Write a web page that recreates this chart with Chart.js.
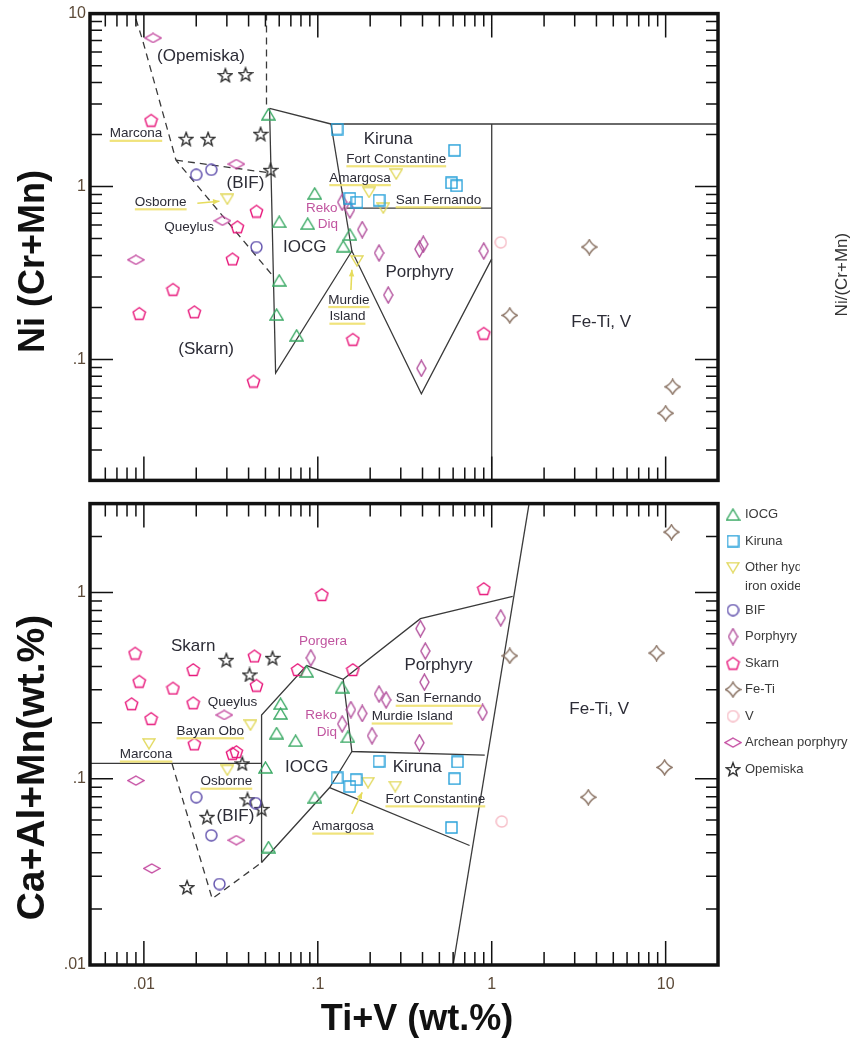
<!DOCTYPE html>
<html>
<head>
<meta charset="utf-8">
<script src="https://cdn.jsdelivr.net/npm/chart.js@4.4.1/dist/chart.umd.min.js"></script>
<style>
  html, body { margin: 0; padding: 0; background: #fff; }
  #wrap { position: relative; width: 858px; height: 1044px; overflow: hidden; }
  #botBox { position: absolute; left: 0; top: 490px; width: 858px; height: 554px; }
  #topBox { position: absolute; left: 0; top: 0; width: 858px; height: 494px; }
</style>
</head>
<body>
<div id="wrap">
  <div id="botBox"><canvas id="botChart"></canvas></div>
  <div id="topBox"><canvas id="topChart"></canvas></div>
</div>
<script>
// shared x axis, Ti+V (wt.%)
const xMin = 0.0049, xMax = 20;
const xTicks = [0.01, 0.1, 1, 10];
const xTickLabels = ['.01', '.1', '1', '10'];

// upper panel, Ni/(Cr+Mn)
const topYMin = 0.02, topYMax = 10;
const topYTicks = [0.1, 1, 10];
const topYTickLabels = ['.1', '1', '10'];

// lower panel, Ca+Al+Mn (wt.%)
const botYMin = 0.01, botYMax = 3;
const botYTicks = [0.01, 0.1, 1];
const botYTickLabels = ['.01', '.1', '1'];

const groups = ['IOCG', 'Kiruna', 'Other hydrothermal iron oxide', 'BIF', 'Porphyry', 'Skarn', 'Fe-Ti', 'V', 'Archean porphyry', 'Opemiska'];

// upper panel samples [Ti+V, Ni/(Cr+Mn)]
const iocgTop = [[0.052, 2.62], [0.060, 0.626], [0.0875, 0.61], [0.096, 0.913], [0.153, 0.528], [0.14, 0.452], [0.060, 0.287], [0.058, 0.182], [0.0756, 0.138]];
const kirunaTop = [[0.129, 2.15], [0.611, 1.62], [0.587, 1.05], [0.628, 1.01], [0.153, 0.855], [0.168, 0.812], [0.225, 0.834]];
const otherTop = [[0.0302, 0.845], [0.2825, 1.18], [0.197, 0.925], [0.238, 0.751], [0.168, 0.372]];
const bifTop = [[0.020, 1.17], [0.0244, 1.25], [0.0444, 0.447]];
const porphyryTop = [[0.138, 0.812], [0.153, 0.732], [0.180, 0.564], [0.225, 0.413], [0.384, 0.435], [0.404, 0.464], [0.90, 0.424], [0.254, 0.236], [0.394, 0.0889]];
const skarnTop = [[0.011, 2.42], [0.0444, 0.722], [0.0345, 0.586], [0.0323, 0.382], [0.0147, 0.255], [0.0094, 0.185], [0.0195, 0.189], [0.0427, 0.0751], [0.159, 0.131], [0.90, 0.142]];
const feTiTop = [[3.64, 0.447], [1.27, 0.180], [10.97, 0.0695], [10.0, 0.0489]];
const vTop = [[1.127, 0.476]];
const archeanTop = [[0.0113, 7.23], [0.034, 1.35], [0.0283, 0.634], [0.009, 0.377]];
const opemiskaTop = [[0.0294, 4.41], [0.0384, 4.47], [0.0175, 1.89], [0.0234, 1.89], [0.0469, 2.02], [0.0535, 1.25]];

// lower panel samples [Ti+V, Ca+Al+Mn]
const iocgBot = [[0.0863, 0.377], [0.138, 0.310], [0.0611, 0.253], [0.0611, 0.224], [0.058, 0.176], [0.0746, 0.160], [0.149, 0.168], [0.050, 0.115], [0.0962, 0.0796], [0.0521, 0.043]];
const kirunaBot = [[0.225, 0.124], [0.636, 0.123], [0.611, 0.100], [0.129, 0.101], [0.166, 0.0989], [0.153, 0.0908], [0.587, 0.0547]];
const otherBot = [[0.0107, 0.154], [0.041, 0.194], [0.0302, 0.111], [0.1945, 0.0953], [0.279, 0.0908]];
const bifBot = [[0.020, 0.0796], [0.0438, 0.074], [0.0244, 0.0497], [0.0272, 0.0272]];
const porphyryBot = [[0.0912, 0.446], [0.389, 0.640], [0.415, 0.485], [0.41, 0.330], [1.127, 0.731], [0.225, 0.285], [0.247, 0.265], [0.180, 0.224], [0.155, 0.235], [0.138, 0.197], [0.205, 0.170], [0.384, 0.156], [0.887, 0.227]];
const skarnBot = [[0.0089, 0.473], [0.0192, 0.386], [0.0094, 0.334], [0.0147, 0.307], [0.0085, 0.253], [0.0192, 0.256], [0.011, 0.211], [0.0195, 0.154], [0.0432, 0.457], [0.0444, 0.318], [0.1055, 0.976], [0.90, 1.05], [0.0766, 0.386], [0.159, 0.386], [0.0323, 0.137], [0.034, 0.14]];
const feTiBot = [[10.8, 2.11], [1.27, 0.457], [8.87, 0.473], [9.86, 0.115], [3.59, 0.0796]];
const vBot = [[1.142, 0.0589]];
const archeanBot = [[0.009, 0.0977], [0.029, 0.22], [0.034, 0.0468], [0.0111, 0.033]];
const opemiskaBot = [[0.0298, 0.435], [0.0549, 0.446], [0.0405, 0.363], [0.0368, 0.121], [0.0394, 0.0776], [0.0475, 0.0689], [0.0231, 0.0625], [0.0177, 0.0262]];

// field boundaries
const topSolid = [
  [[0.0528, 2.83], [0.119, 2.30], [20, 2.30]],
  [[0.0528, 2.83], [0.0572, 0.0834], [0.157, 0.424], [0.394, 0.0634], [1.0, 0.382]],
  [[0.119, 2.30], [0.157, 0.424]],
  [[0.147, 0.751], [1.0, 0.751]],
  [[1.0, 2.30], [1.0, 0.02]]
];
const topDashed = [
  [[0.009, 9.3], [0.0098, 7.1], [0.0153, 1.42], [0.0549, 0.306]],
  [[0.0153, 1.42], [0.0528, 1.20]],
  [[0.0507, 10], [0.0507, 2.9]]
];
const botSolid = [
  [[0.0049, 0.121], [0.0475, 0.121]],
  [[0.0475, 0.0355], [0.0475, 0.22], [0.0863, 0.405], [0.14, 0.342], [0.389, 0.723], [1.32, 0.953]],
  [[0.14, 0.342], [0.157, 0.140], [0.912, 0.134]],
  [[0.157, 0.140], [0.117, 0.0897], [0.0475, 0.0355]],
  [[0.117, 0.0897], [0.746, 0.0438]],
  [[1.64, 3.0], [0.60, 0.01]]
];
const botDashed = [
  [[0.0145, 0.121], [0.0247, 0.0227], [0.0475, 0.0355]]
];

// annotations [text, x, y]
const topRegionLabels = [['(Opemiska)', 0.0213, 5.63], ['(BIF)', 0.0384, 1.04], ['IOCG', 0.0841, 0.447], ['Kiruna', 0.254, 1.87], ['Porphyry', 0.384, 0.318], ['Fe-Ti, V', 4.26, 0.164], ['(Skarn)', 0.0228, 0.114]];
const topSiteLabels = [['Marcona', 0.009, 2.02], ['Osborne', 0.0125, 0.812], ['Fort Constantine', 0.2825, 1.44], ['Amargosa', 0.175, 1.12], ['San Fernando', 0.494, 0.834], ['Murdie', 0.151, 0.221], ['Island', 0.148, 0.177]];
const topPlainLabels = [['Queylus', 0.0182, 0.579]];
const topDepositLabels = [['Reko', 0.1055, 0.751], ['Diq', 0.1143, 0.602]];
const topArrows = [[0.0203, 0.80, 0.0272, 0.823], [0.155, 0.252, 0.157, 0.33]];

const botRegionLabels = [['Skarn', 0.0192, 0.515], ['(BIF)', 0.0336, 0.0625], ['IOCG', 0.0863, 0.115], ['Porphyry', 0.494, 0.405], ['Kiruna', 0.373, 0.115], ['Fe-Ti, V', 4.15, 0.235]];
const botSiteLabels = [['Bayan Obo', 0.0241, 0.18], ['Marcona', 0.0103, 0.135], ['Osborne', 0.0298, 0.0965], ['San Fernando', 0.494, 0.269], ['Murdie Island', 0.349, 0.216], ['Fort Constantine', 0.474, 0.0776], ['Amargosa', 0.1396, 0.0554]];
const botPlainLabels = [['Queylus', 0.0323, 0.256]];
const botDepositLabels = [['Porgera', 0.107, 0.547], ['Reko', 0.1045, 0.22], ['Diq', 0.1127, 0.178]];
const botArrows = [[0.157, 0.0648, 0.180, 0.0845]];

const FONT = '"Liberation Sans", Arial, Helvetica, sans-serif';
const tickColor = '#5c4a38';

// marker glyphs
const shapes = {
  triUp: (g, w, h) => { g.moveTo(0, -h / 2 + 1); g.lineTo(w / 2 - 1, h / 2 - 1); g.lineTo(-w / 2 + 1, h / 2 - 1); g.closePath(); },
  triDown: (g, w, h) => { g.moveTo(-w / 2 + 1, -h / 2 + 1); g.lineTo(w / 2 - 1, -h / 2 + 1); g.lineTo(0, h / 2 - 1); g.closePath(); },
  square: (g, w, h) => { g.rect(-w / 2 + 1, -h / 2 + 1, w - 2, h - 2); },
  circle: (g, w) => { g.arc(0, 0, w / 2 - 1, 0, Math.PI * 2); },
  diamond: (g, w, h) => { g.moveTo(0, -h / 2 + 1); g.lineTo(w / 2 - 1, 0); g.lineTo(0, h / 2 - 1); g.lineTo(-w / 2 + 1, 0); g.closePath(); },
  pentagon: (g, w) => {
    const r = w / 2 - 1;
    for (let i = 0; i < 5; i++) {
      const a = -Math.PI / 2 + i * 2 * Math.PI / 5;
      if (i) g.lineTo(r * Math.cos(a), r * Math.sin(a) + 0.8); else g.moveTo(r * Math.cos(a), r * Math.sin(a) + 0.8);
    }
    g.closePath();
  },
  star5: (g, w) => {
    const R = w / 2 - 1, r = R * 0.42;
    for (let i = 0; i < 10; i++) {
      const a = -Math.PI / 2 + i * Math.PI / 5, rr = i % 2 ? r : R;
      if (i) g.lineTo(rr * Math.cos(a), rr * Math.sin(a) + 0.8); else g.moveTo(rr * Math.cos(a), rr * Math.sin(a) + 0.8);
    }
    g.closePath();
  },
  star4: (g, w) => {
    const r = w / 2 - 1, k = r * 0.32;
    g.moveTo(0, -r);
    g.quadraticCurveTo(k, -k, r, 0);
    g.quadraticCurveTo(k, k, 0, r);
    g.quadraticCurveTo(-k, k, -r, 0);
    g.quadraticCurveTo(-k, -k, 0, -r);
    g.closePath();
  }
};

function marker(shape, w, h, color) {
  const c = document.createElement('canvas');
  c.width = w; c.height = h;
  const g = c.getContext('2d');
  g.strokeStyle = color;
  g.lineWidth = 1.4;
  g.translate(w / 2, h / 2);
  g.beginPath();
  shapes[shape](g, w, h);
  g.stroke();
  return c;
}

const styles = [
  marker('triUp', 15, 13, '#3aa964'),
  marker('square', 13, 13, '#2aa2da'),
  marker('triDown', 14, 12, '#e2d95e'),
  marker('circle', 13, 13, '#6151ad'),
  marker('diamond', 11, 18, '#b24f9c'),
  marker('pentagon', 15, 15, '#e8197c'),
  marker('star4', 17, 17, '#8c7566'),
  marker('circle', 13, 13, '#f6bcc6'),
  marker('diamond', 18, 11, '#c2449d'),
  marker('star5', 16, 16, '#2a2a2a')
];

const pts = arr => arr.map(([x, y]) => ({ x, y }));

function markerSets(series) {
  return series.map((arr, i) => ({
    label: groups[i],
    legendText: i === 2 ? ['Other hydrothermal', 'iron oxide'] : groups[i],
    legendClip: i === 2 ? 62 : 200,
    data: pts(arr),
    pointStyle: styles[i],
    pointRadius: 7,
    showLine: false,
    order: 0
  }));
}

function lineSets(solid, dashed) {
  const mk = (arr, dash) => ({
    data: pts(arr), showLine: true, borderColor: '#3a3a3a', borderWidth: 1.3, borderDash: dash,
    pointRadius: 0, pointHitRadius: 0, fill: false, tension: 0, order: 2
  });
  return solid.map(a => mk(a, [])).concat(dashed.map(a => mk(a, [7, 5])));
}

function logSteps(lo, hi) {
  const out = [];
  for (let e = -3; e <= 2; e++) {
    for (let m = 1; m <= 9; m++) {
      const v = +(m * Math.pow(10, e)).toPrecision(3);
      if (v >= lo * 1.05 && v <= hi * 1.001) out.push(v);
    }
  }
  return out;
}
const isDecade = v => Math.abs(Math.log10(v) - Math.round(Math.log10(v))) < 1e-6;

// inward tick marks on all four sides plus the frame
const frame = {
  id: 'frame',
  afterDraw(chart) {
    const { ctx, chartArea: a, scales: { x, y } } = chart;
    ctx.save();
    ctx.strokeStyle = '#111';
    ctx.lineWidth = 1.5;
    ctx.beginPath();
    logSteps(x.min, x.max).forEach(v => {
      const px = x.getPixelForValue(v), len = isDecade(v) ? 24 : 13;
      ctx.moveTo(px, a.top); ctx.lineTo(px, a.top + len);
      ctx.moveTo(px, a.bottom); ctx.lineTo(px, a.bottom - len);
    });
    logSteps(y.min, y.max).forEach(v => {
      const py = y.getPixelForValue(v), len = isDecade(v) ? 23 : 12;
      ctx.moveTo(a.left, py); ctx.lineTo(a.left + len, py);
      ctx.moveTo(a.right, py); ctx.lineTo(a.right - len, py);
    });
    ctx.stroke();
    ctx.lineWidth = 3.5;
    ctx.strokeRect(a.left, a.top, a.right - a.left, a.bottom - a.top);
    ctx.restore();
  }
};

const labelKinds = {
  region: { font: '17px ' + FONT, color: '#2c2c36' },
  site: { font: '13.5px ' + FONT, color: '#2c2c36', underline: 'rgba(238,224,110,0.9)' },
  plain: { font: '13.5px ' + FONT, color: '#2c2c36' },
  deposit: { font: '13.5px ' + FONT, color: '#c0549f' }
};

function notes(groupsOfLabels, arrows) {
  return {
    id: 'notes',
    afterDatasetsDraw(chart) {
      const { ctx, scales: { x, y } } = chart;
      ctx.save();
      ctx.strokeStyle = '#e6dc5c';
      ctx.fillStyle = '#e6dc5c';
      ctx.lineWidth = 1.6;
      arrows.forEach(([x1, y1, x2, y2]) => {
        const ax = x.getPixelForValue(x1), ay = y.getPixelForValue(y1);
        const bx = x.getPixelForValue(x2), by = y.getPixelForValue(y2);
        const ang = Math.atan2(by - ay, bx - ax);
        ctx.beginPath(); ctx.moveTo(ax, ay); ctx.lineTo(bx, by); ctx.stroke();
        ctx.beginPath();
        ctx.moveTo(bx, by);
        ctx.lineTo(bx - 7 * Math.cos(ang - 0.4), by - 7 * Math.sin(ang - 0.4));
        ctx.lineTo(bx - 7 * Math.cos(ang + 0.4), by - 7 * Math.sin(ang + 0.4));
        ctx.closePath(); ctx.fill();
      });
      ctx.textAlign = 'center';
      ctx.textBaseline = 'middle';
      groupsOfLabels.forEach(([kind, list]) => {
        const st = labelKinds[kind];
        ctx.font = st.font;
        list.forEach(([t, lx, ly]) => {
          const px = x.getPixelForValue(lx), py = y.getPixelForValue(ly);
          if (st.underline) {
            const w = ctx.measureText(t).width;
            ctx.fillStyle = st.underline;
            ctx.fillRect(px - w / 2, py + 6, w, 2.2);
          }
          ctx.fillStyle = st.color;
          ctx.fillText(t, px, py);
        });
      });
      ctx.restore();
    }
  };
}

function rotatedText(ctx, text, cx, cy, font, color, angle) {
  ctx.save();
  ctx.translate(cx, cy);
  ctx.rotate(angle);
  ctx.font = font;
  ctx.fillStyle = color;
  ctx.textAlign = 'center';
  ctx.textBaseline = 'middle';
  ctx.fillText(text, 0, 0);
  ctx.restore();
}

const topTitles = {
  id: 'topTitles',
  afterDraw(chart) {
    const { ctx, chartArea: a } = chart;
    rotatedText(ctx, 'Ni (Cr+Mn)', a.left - 56, a.top + 248, 'bold 36px ' + FONT, '#111', -Math.PI / 2);
    rotatedText(ctx, 'Ni/(Cr+Mn)', a.right + 124, a.top + 261, '17px ' + FONT, '#333', -Math.PI / 2);
  }
};

const botTitles = {
  id: 'botTitles',
  afterDraw(chart) {
    const { ctx, chartArea: a } = chart;
    rotatedText(ctx, 'Ca+Al+Mn(wt.%)', a.left - 57, a.top + 264, 'bold 39px ' + FONT, '#111', -Math.PI / 2);
    rotatedText(ctx, 'Ti+V (wt.%)', a.left + 327, a.bottom + 55, 'bold 36px ' + FONT, '#111', 0);
  }
};

// legend to the right of the lower panel
const sideLegend = {
  id: 'sideLegend',
  afterDraw(chart) {
    const { ctx, chartArea: a } = chart;
    let y = a.top + 11;
    ctx.save();
    ctx.font = '13px ' + FONT;
    ctx.fillStyle = '#3a3a3a';
    ctx.textBaseline = 'middle';
    chart.data.datasets.filter(d => d.legendText).forEach(d => {
      const img = d.pointStyle;
      ctx.drawImage(img, a.right + 15 - img.width / 2, y - img.height / 2);
      const lines = [].concat(d.legendText);
      ctx.save();
      ctx.beginPath();
      ctx.rect(a.right + 20, y - 14, d.legendClip, 19 * lines.length + 10);
      ctx.clip();
      lines.forEach((t, i) => ctx.fillText(t, a.right + 27, y + i * 19));
      ctx.restore();
      y += 26.5 + (lines.length - 1) * 16;
    });
    ctx.restore();
  }
};

function yScale(min, max, ticks, labels) {
  return {
    type: 'logarithmic', min, max,
    grid: { display: false, drawTicks: false },
    border: { display: false },
    afterBuildTicks: s => { s.ticks = ticks.map(v => ({ value: v })); },
    ticks: {
      autoSkip: false, padding: 4, color: tickColor,
      font: { family: FONT, size: 16 },
      callback: v => { const i = ticks.indexOf(v); return i < 0 ? '' : labels[i]; }
    },
    afterFit: s => { s.width = 90; }
  };
}

new Chart(document.getElementById('topChart'), {
  type: 'scatter',
  data: {
    datasets: markerSets([iocgTop, kirunaTop, otherTop, bifTop, porphyryTop, skarnTop, feTiTop, vTop, archeanTop, opemiskaTop])
      .concat(lineSets(topSolid, topDashed))
  },
  options: {
    responsive: true, maintainAspectRatio: false, animation: false,
    layout: { padding: { top: 13, right: 140, left: 0, bottom: 0 } },
    plugins: { legend: { display: false }, tooltip: { enabled: false } },
    scales: {
      x: {
        type: 'logarithmic', min: xMin, max: xMax,
        grid: { display: false, drawTicks: false }, border: { display: false },
        ticks: { display: false },
        afterFit: s => { s.height = 2; }
      },
      y: yScale(topYMin, topYMax, topYTicks, topYTickLabels)
    }
  },
  plugins: [frame, notes([['region', topRegionLabels], ['site', topSiteLabels], ['plain', topPlainLabels], ['deposit', topDepositLabels]], topArrows), topTitles]
});

new Chart(document.getElementById('botChart'), {
  type: 'scatter',
  data: {
    datasets: markerSets([iocgBot, kirunaBot, otherBot, bifBot, porphyryBot, skarnBot, feTiBot, vBot, archeanBot, opemiskaBot])
      .concat(lineSets(botSolid, botDashed))
  },
  options: {
    responsive: true, maintainAspectRatio: false, animation: false,
    layout: { padding: { top: 2, right: 140, left: 0, bottom: 0 } },
    plugins: { legend: { display: false }, tooltip: { enabled: false } },
    scales: {
      x: {
        type: 'logarithmic', min: xMin, max: xMax,
        grid: { display: false, drawTicks: false }, border: { display: false },
        afterBuildTicks: s => { s.ticks = xTicks.map(v => ({ value: v })); },
        ticks: {
          autoSkip: false, maxRotation: 0, padding: 10, color: tickColor,
          font: { family: FONT, size: 16 },
          callback: v => { const i = xTicks.indexOf(v); return i < 0 ? '' : xTickLabels[i]; }
        },
        afterFit: s => { s.height = 79; }
      },
      y: yScale(botYMin, botYMax, botYTicks, botYTickLabels)
    }
  },
  plugins: [frame, notes([['region', botRegionLabels], ['site', botSiteLabels], ['plain', botPlainLabels], ['deposit', botDepositLabels]], botArrows), botTitles, sideLegend]
});
</script>
</body>
</html>
